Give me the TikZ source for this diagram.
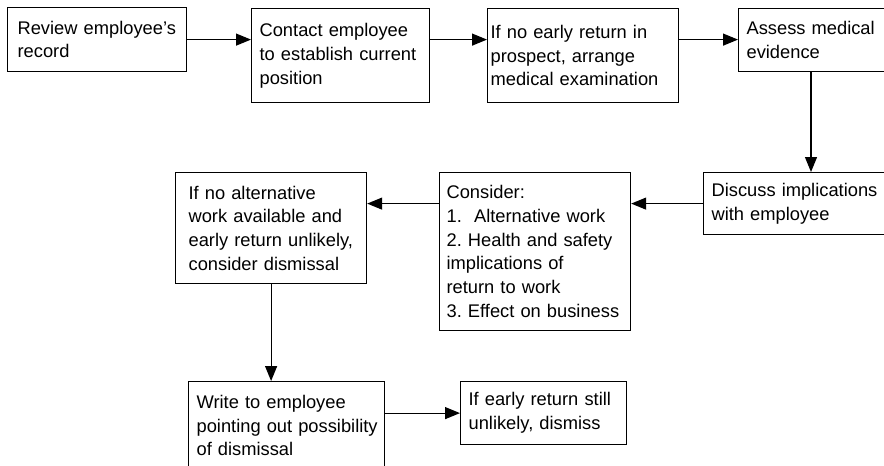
\documentclass[tikz,border=0pt]{standalone}
\usepackage{fontspec}
\setmainfont{Liberation Sans}
\frenchspacing
\usetikzlibrary{positioning, arrows.meta}

\tikzset{
  stepbox/.style={draw=black, line width=1.2pt, anchor=north west, align=left,
    inner ysep=2pt, font=\fontsize{18.3}{23.7}\selectfont},
  flow/.style={draw=black, line width=1.2pt, -{Triangle[length=15pt,width=12pt]}}
}

\begin{document}
\begin{tikzpicture}[x=1pt, y=-1pt]
            \useasboundingbox (0,0) rectangle (884,466);
            \clip (0,0) rectangle (884,466);
            \fill[white] (0,0) rectangle (884,466);

            % top row
            \node[stepbox, inner xsep=10pt, text width=159pt, minimum height=64pt] (review) at (7,7) {Review employee’s\\record};
            \node[stepbox, inner xsep=8pt, text width=162pt, minimum height=94pt] (contact) at (251,8) {Contact employee\\to establish current\\position};
            \node[stepbox, inner xsep=3pt, text width=185pt, minimum height=94pt] (exam) at (487,8) {If no early return in\\prospect, arrange\\medical examination};
            \node[stepbox, inner xsep=8pt, text width=164pt, minimum height=63pt] (assess) at (738,8) {Assess medical\\evidence};

            % middle row
            \node[stepbox, inner xsep=8pt, text width=174pt, minimum height=62pt] (discuss) at (703,172) {Discuss implications\\with employee};
            \node[stepbox, inner xsep=7pt, text width=177pt, minimum height=158pt] (consider) at (439,172) {Consider:\\1.\ \ Alternative work\\2. Health and safety\\implications of\\return to work\\3. Effect on business};
            \node[stepbox, inner xsep=13pt, text width=165pt, minimum height=111pt] (noalt) at (175,172) {If no alternative\\work available and\\\mbox{early return unlikely,}\\consider dismissal};

            % bottom row
            \node[stepbox, inner xsep=8pt, text width=180pt, minimum height=88pt] (write) at (188,381) {Write to employee\\\mbox{pointing out possibility}\\of dismissal};
            \node[stepbox, inner xsep=8pt, text width=150pt, minimum height=63pt] (dismiss) at (460,381) {If early return still\\unlikely, dismiss};

            \draw[flow] (review.east) -- (review.east -| contact.west);
            \draw[flow] (contact.east |- review.east) -- (exam.west |- review.east);
            \draw[flow] (exam.east |- review.east) -- (assess.west |- review.east);
            \draw[flow] ([xshift=73pt]assess.south west) -- ([xshift=108pt]discuss.north west);
            \draw[flow] (discuss.west) -- (discuss.west -| consider.east);
            \draw[flow] (consider.west |- discuss.west) -- (noalt.east |- discuss.west);
            \draw[flow] (noalt.south) -- (noalt.south |- write.north);
            \draw[flow] (write.east |- dismiss.west) -- (dismiss.west);
        \end{tikzpicture}
\end{document}
